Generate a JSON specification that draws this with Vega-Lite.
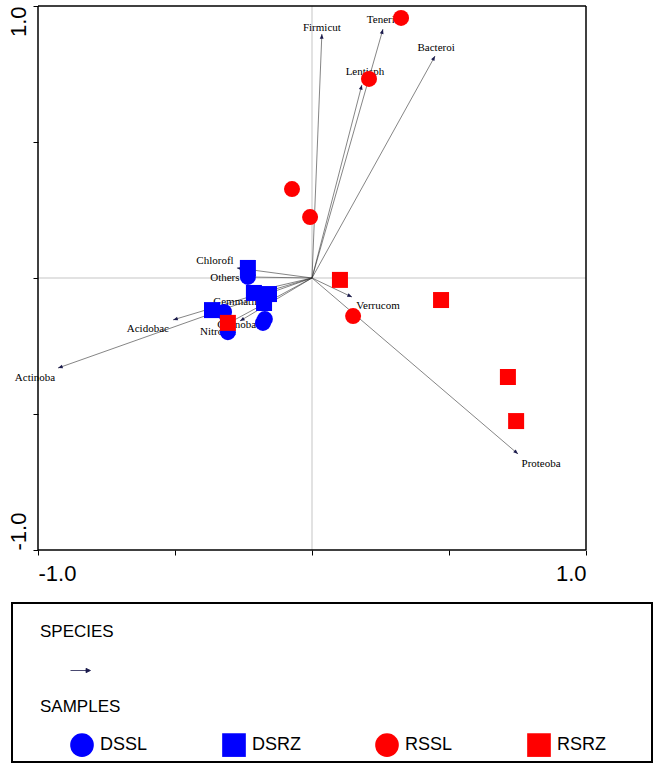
{
  "$schema": "https://vega.github.io/schema/vega-lite/v6.json",
  "background": "white",
  "padding": {"left": 6, "top": 5, "right": 5, "bottom": 5},
  "datasets": {
    "species": [
      {"name": "Firmicut", "x": 0.036, "y": 0.897, "lx": 0.036, "ly": 0.919},
      {"name": "Tenericu", "x": 0.259, "y": 0.915, "lx": 0.27, "ly": 0.949},
      {"name": "Lentisph", "x": 0.182, "y": 0.71, "lx": 0.193, "ly": 0.757},
      {"name": "Bacteroi", "x": 0.449, "y": 0.816, "lx": 0.453, "ly": 0.846},
      {"name": "Chlorofl", "x": -0.274, "y": 0.037, "lx": -0.354, "ly": 0.0625},
      {"name": "Others", "x": -0.248, "y": 0.004, "lx": -0.318, "ly": 0.0},
      {"name": "Gemmatim", "x": -0.234, "y": -0.055, "lx": -0.27, "ly": -0.088},
      {"name": "Acidobac", "x": -0.507, "y": -0.154, "lx": -0.599, "ly": -0.1875},
      {"name": "Actinoba", "x": -0.927, "y": -0.331, "lx": -1.011, "ly": -0.368},
      {"name": "Nitrospi", "x": -0.303, "y": -0.165, "lx": -0.343, "ly": -0.199},
      {"name": "Cyanobac", "x": -0.263, "y": -0.158, "lx": -0.266, "ly": -0.173},
      {"name": "Verrucom", "x": 0.146, "y": -0.07, "lx": 0.241, "ly": -0.103},
      {"name": "Proteoba", "x": 0.752, "y": -0.647, "lx": 0.836, "ly": -0.684}
    ],
    "samples": [
      {"group": "DSSL", "x": -0.234, "y": 0.004},
      {"group": "DSSL", "x": -0.172, "y": -0.151},
      {"group": "DSSL", "x": -0.179, "y": -0.165},
      {"group": "DSSL", "x": -0.307, "y": -0.199},
      {"group": "DSSL", "x": -0.321, "y": -0.125},
      {"group": "DSRZ", "x": -0.234, "y": 0.037},
      {"group": "DSRZ", "x": -0.212, "y": -0.055},
      {"group": "DSRZ", "x": -0.157, "y": -0.059},
      {"group": "DSRZ", "x": -0.175, "y": -0.092},
      {"group": "DSRZ", "x": -0.365, "y": -0.118},
      {"group": "RSSL", "x": 0.325, "y": 0.956},
      {"group": "RSSL", "x": 0.208, "y": 0.732},
      {"group": "RSSL", "x": -0.073, "y": 0.327},
      {"group": "RSSL", "x": -0.007, "y": 0.224},
      {"group": "RSSL", "x": 0.15, "y": -0.14},
      {"group": "RSRZ", "x": -0.307, "y": -0.165},
      {"group": "RSRZ", "x": 0.102, "y": -0.007},
      {"group": "RSRZ", "x": 0.471, "y": -0.081},
      {"group": "RSRZ", "x": 0.715, "y": -0.364},
      {"group": "RSRZ", "x": 0.745, "y": -0.526}
    ]
  },
  "columns": 1,
  "align": "none",
  "spacing": 18,
  "concat": [
    {
      "width": 574,
      "height": 544,
      "view": {"stroke": null},
      "layer": [
        {
          "data": {"values": [{"v": 0}]},
          "mark": {"type": "rule", "color": "#d9d9d9", "strokeWidth": 1.5},
          "encoding": {
            "x": {"field": "v", "type": "quantitative", "scale": {"domain": [-1.0949, 1], "nice": false, "zero": false}, "axis": {"values": [-1, -0.5, 0, 0.5, 1]}},
            "y": {"datum": -1, "type": "quantitative", "scale": {"domain": [-1, 1], "nice": false, "zero": false}, "axis": {"values": [-1, -0.5, 0, 0.5, 1]}},
            "y2": {"datum": 1}
          }
        },
        {
          "data": {"values": [{"v": 0}]},
          "mark": {"type": "rule", "color": "#d9d9d9", "strokeWidth": 1.5},
          "encoding": {
            "y": {"field": "v", "type": "quantitative"},
            "x": {"datum": -1, "type": "quantitative"},
            "x2": {"datum": 1}
          }
        },
        {
          "data": {"values": [{"v": -1}, {"v": 1}]},
          "mark": {"type": "rule", "color": "black", "strokeWidth": 1.5},
          "encoding": {
            "x": {"field": "v", "type": "quantitative"},
            "y": {"datum": -1, "type": "quantitative"},
            "y2": {"datum": 1}
          }
        },
        {
          "data": {"values": [{"v": -1}, {"v": 1}]},
          "mark": {"type": "rule", "color": "black", "strokeWidth": 1.5},
          "encoding": {
            "y": {"field": "v", "type": "quantitative"},
            "x": {"datum": -1, "type": "quantitative"},
            "x2": {"datum": 1}
          }
        },
        {
          "data": {"name": "species"},
          "mark": {"type": "rule", "color": "#333333", "strokeWidth": 0.6},
          "encoding": {
            "x": {"field": "x", "type": "quantitative"},
            "y": {"field": "y", "type": "quantitative"},
            "x2": {"datum": 0},
            "y2": {"datum": 0},
            "opacity": {
              "datum": "species",
              "type": "ordinal",
              "scale": {"range": [1]},
              "legend": {
                "title": "SPECIES",
                "orient": "none",
                "legendX": 28,
                "legendY": 618,
                "labelExpr": "''",
                "symbolType": "M-1,0L0.6,0M0.55,-0.22L1,0L0.55,0.22Z",
                "symbolSize": 400,
                "symbolFillColor": "#1b1b4d",
                "symbolStrokeColor": "#1b1b4d",
                "symbolStrokeWidth": 0.8,
                "symbolOffset": 30,
                "titlePadding": 19
              }
            }
          }
        },
        {
          "data": {"name": "species"},
          "transform": [{"calculate": "atan2(datum.x, datum.y) * 180 / PI", "as": "ang"}],
          "mark": {"type": "point", "filled": true, "opacity": 1, "shape": "M0,0L0.4,1L-0.4,1Z", "color": "#1b1b4d"},
          "encoding": {
            "x": {"field": "x", "type": "quantitative"},
            "y": {"field": "y", "type": "quantitative"},
            "angle": {"field": "ang", "type": "quantitative", "scale": null},
            "size": {"value": 90}
          }
        },
        {
          "data": {"name": "species"},
          "mark": {"type": "text", "font": "Liberation Serif", "fontSize": 11, "color": "black", "align": "center", "baseline": "middle"},
          "encoding": {
            "x": {"field": "lx", "type": "quantitative"},
            "y": {"field": "ly", "type": "quantitative"},
            "text": {"field": "name"}
          }
        },
        {
          "data": {"name": "samples"},
          "mark": {"type": "point", "filled": true, "opacity": 1, "size": 256},
          "encoding": {
            "x": {"field": "x", "type": "quantitative"},
            "y": {"field": "y", "type": "quantitative"},
            "color": {
              "field": "group",
              "type": "nominal",
              "scale": {"domain": ["DSSL", "DSRZ", "RSSL", "RSRZ"], "range": ["#0000ff", "#0000ff", "#ff0000", "#ff0000"]},
              "legend": {
                "title": "SAMPLES",
                "orient": "none",
                "legendX": 28,
                "legendY": 693,
                "direction": "horizontal",
                "columns": 4,
                "symbolSize": 560,
                "symbolOffset": 29,
                "labelOffset": 5,
                "columnPadding": 44,
                "titlePadding": 16
              }
            },
            "shape": {
              "field": "group",
              "type": "nominal",
              "scale": {"domain": ["DSSL", "DSRZ", "RSSL", "RSRZ"], "range": ["circle", "square", "circle", "square"]}
            }
          }
        }
      ]
    },
    {
      "width": 640,
      "height": 159,
      "view": {"stroke": "black", "strokeWidth": 2},
      "data": {"values": [{}]},
      "mark": {"type": "text"},
      "encoding": {"text": {"value": ""}}
    }
  ],
  "config": {
    "font": "Liberation Sans",
    "view": {"stroke": "black", "strokeWidth": 1.5},
    "axis": {
      "grid": false,
      "title": null,
      "domain": false,
      "tickColor": "black",
      "tickSize": 5,
      "labelFont": "Liberation Sans",
      "labelFontSize": 22,
      "labelColor": "black",
      "labelExpr": "datum.value == 1 ? '1.0' : (datum.value == -1 ? '-1.0' : '')"
    },
    "axisX": {
      "labelFlush": false,
      "labelPadding": 8,
      "labelAlign": {"condition": {"test": "datum.value < 0", "value": "left"}, "value": "right"}
    },
    "axisY": {
      "offset": -26,
      "labelAngle": -90,
      "labelBaseline": "bottom",
      "labelPadding": 3,
      "labelAlign": {"condition": {"test": "datum.value > 0", "value": "right"}, "value": "left"}
    },
    "legend": {
      "padding": 0,
      "titleFont": "Liberation Sans",
      "titleFontSize": 17,
      "titleFontWeight": "normal",
      "titleColor": "black",
      "labelFont": "Liberation Sans",
      "labelFontSize": 18,
      "labelColor": "black"
    }
  }
}
